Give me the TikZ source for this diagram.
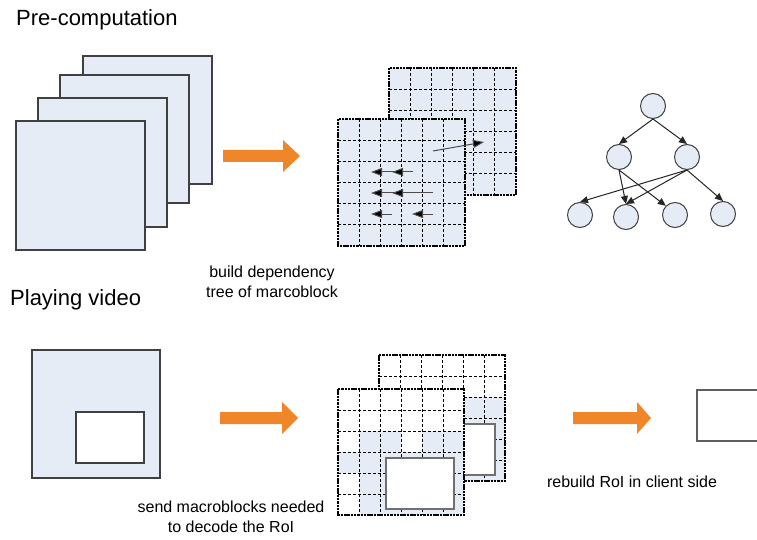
\documentclass[tikz,border=0pt]{standalone}
\usepackage{fontspec}
\setmainfont{Liberation Sans}
\usetikzlibrary{arrows.meta}
\definecolor{paneblue}{RGB}{230,236,246}
\definecolor{frameline}{RGB}{64,64,64}
\definecolor{arroworange}{RGB}{240,134,42}
\definecolor{roiline}{RGB}{112,112,112}
\tikzset{
  framebox/.style={draw=frameline,line width=1.2pt,fill=paneblue},
  gridline/.style={draw=black,line width=1pt,dash pattern=on 3pt off 2pt},
  gridborder/.style={draw=black,line width=1.5pt,dash pattern=on 2.5pt off 0.8pt},
  roibox/.style={draw=roiline,line width=2pt,fill=white},
  bigarrow/.style={fill=arroworange,draw=none},
  mvarrow/.style={draw=black!70,line width=1pt,-{Triangle[length=11pt,width=8pt,fill=black]}},
  treenode/.style={circle,draw=frameline,line width=1pt,fill=paneblue,minimum size=25pt,inner sep=0pt},
  treearrow/.style={draw=black!85,line width=1pt,-{Triangle[length=8pt,width=7pt]}},
  titletext/.style={font=\fontsize{22}{26}\selectfont,anchor=base west,inner sep=0pt},
  labeltext/.style={font=\fontsize{16}{20}\selectfont,align=center,inner sep=0pt}
}
\begin{document}
\begin{tikzpicture}[x=1pt,y=-1pt]
\useasboundingbox (0,0) rectangle (757,540);
\clip (0,0) rectangle (757,540);
\fill[white] (0,0) rectangle (757,540);

% titles
\node[titletext] (tpre) at (16,26) {Pre-computation};
\node[titletext] (tplay) at (10,305) {Playing video};

% stacked frames
\draw[framebox] (83,56) rectangle (212,184);
\draw[framebox] (60,75) rectangle (189,203);
\draw[framebox] (38,98) rectangle (167,227);
\draw[framebox] (16,121) rectangle (145,250);

% orange arrows
\fill[bigarrow] (223,150) -- (283,150) -- (283,140) -- (300,156) -- (283,172) -- (283,162) -- (223,162) -- cycle;
\fill[bigarrow] (220,412) -- (282,412) -- (282,402) -- (298,418) -- (282,434) -- (282,424) -- (220,424) -- cycle;
\fill[bigarrow] (573,412) -- (637,412) -- (637,402) -- (651,418) -- (637,434) -- (637,424) -- (573,424) -- cycle;

% top grids
\foreach \gx/\gy in {389/68, 338/119} {
  \begin{scope}[shift={(\gx,\gy)}]
    \fill[paneblue] (0,0) rectangle (127,127);
    \foreach \i in {1,...,5} {
      \draw[gridline] ({\i*127/6},0) -- ({\i*127/6},127);
      \draw[gridline] (0,{\i*127/6}) -- (127,{\i*127/6});
    }
    \draw[gridborder] (0,0) rectangle (127,127);
  \end{scope}
}
% motion arrows
\draw[mvarrow] (433,151) -- (484,142);
\draw[mvarrow] (413,172) -- (392,172);
\draw[mvarrow] (394,172) -- (371,172);
\draw[mvarrow] (433,193) -- (392,193);
\draw[mvarrow] (394,193) -- (371,193);
\draw[mvarrow] (392,214) -- (371,214);
\draw[mvarrow] (433,214) -- (412,214);

% dependency tree
\node[treenode] (t0) at (653,106) {};
\node[treenode] (t1) at (619,157) {};
\node[treenode] (t2) at (687,157) {};
\node[treenode] (t3) at (580,215) {};
\node[treenode] (t4) at (626,217) {};
\node[treenode] (t5) at (675,215) {};
\node[treenode] (t6) at (723,214) {};
\draw[treearrow] (t0.south) -- (t1.north);
\draw[treearrow] (t0.south) -- (t2.north);
\draw[treearrow] (t1.south) -- (t4.north);
\draw[treearrow] (t1.south) -- (t5.north west);
\draw[treearrow] (t2.south) -- (t3.north);
\draw[treearrow] (t2.south) -- (t4.north);
\draw[treearrow] (t2.south) -- (t6.north);

% labels
\node[labeltext] (lbuild) at (272,282) {build dependency\\tree of marcoblock};
\node[labeltext] (lsend) at (231,517) {send macroblocks needed\\to decode the RoI};
\node[labeltext] (lrebuild) at (632,482) {rebuild RoI in client side};

% playing video frame
\draw[framebox] (32,350) rectangle (160,478);
\draw[draw=frameline,line width=1.2pt,fill=white] (76,412) rectangle (144,463);

% bottom back grid
\begin{scope}[shift={(379,355)}]
  \fill[white] (0,0) rectangle (126,126);
  \foreach \r in {2,...,5} {
    \foreach \c in {2,...,5} {
      \fill[paneblue] (\c*21,\r*21) rectangle ({(\c+1)*21},{(\r+1)*21});
    }
  }
  \foreach \i in {1,...,5} {
    \draw[gridline] (\i*21,0) -- (\i*21,126);
    \draw[gridline] (0,\i*21) -- (126,\i*21);
  }
  \draw[gridborder] (0,0) rectangle (126,126);
  \draw[roibox] (48,69) rectangle (116,120);
\end{scope}

% bottom front grid
\begin{scope}[shift={(338,389)}]
  \fill[white] (0,0) rectangle (126,126);
  \foreach \c/\r in {1/2,2/2,4/2,5/2,0/3,1/3,2/3,3/3,4/3,5/3,1/4,2/4,3/4,4/4,5/4,1/5,2/5,3/5,4/5,5/5} {
    \fill[paneblue] (\c*21,\r*21) rectangle ({(\c+1)*21},{(\r+1)*21});
  }
  \foreach \i in {1,...,5} {
    \draw[gridline] (\i*21,0) -- (\i*21,126);
    \draw[gridline] (0,\i*21) -- (126,\i*21);
  }
  \draw[gridborder] (0,0) rectangle (126,126);
  \draw[roibox] (48,69) rectangle (116,120);
\end{scope}

% client side rebuilt RoI
\draw[draw=frameline!85,line width=1.2pt,fill=white] (697,390) rectangle (770,441);
\end{tikzpicture}
\end{document}
